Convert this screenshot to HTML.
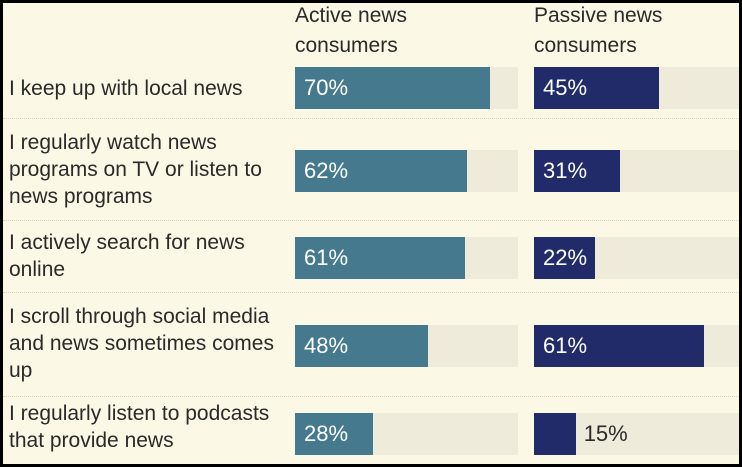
<!DOCTYPE html>
<html><head><meta charset="utf-8"><style>
body{margin:0;width:742px;height:467px;overflow:hidden;background:#fff}
#frame{position:absolute;left:0;top:0;width:736px;height:461px;border:3px solid #000;background:#fbf8e6;font-family:"Liberation Sans",sans-serif;color:#2a2a2a}
.lbl{position:absolute;left:6px;font-size:21px;line-height:27px;white-space:nowrap}
.hdr{position:absolute;font-size:21px;line-height:30px;top:-2px}
.sep{position:absolute;left:0;width:736px;border-top:1px dotted #d8d4bf}
</style></head><body>
<div id="frame">
<div class="hdr" style="left:292px">Active news<br>consumers</div>
<div class="hdr" style="left:531px">Passive news<br>consumers</div>
<div id="rows"></div>
</div>
<script>
const categories=["I keep up with local news","I regularly watch news<br>programs on TV or listen to<br>news programs","I actively search for news<br>online","I scroll through social media<br>and news sometimes comes<br>up","I regularly listen to podcasts<br>that provide news"];
const activeValues=[70,62,61,48,28];
const passiveValues=[45,31,22,61,15];
const barTops=[64,147,234,322,410];
const labelTops=[72,126,226,300,397];
const seps=[115,217,289,393];
const root=document.getElementById('rows');
const scale=v=>v*2.78;
function bar(x,top,trackW,v,color,name){
  const t=document.createElement('div');
  t.style.cssText=`position:absolute;left:${x}px;top:${top}px;width:${trackW}px;height:42px;background:#eeebdb`;
  
  
  const b=document.createElement('div');
  b.style.cssText=`position:absolute;left:0;top:0;width:${scale(v)}px;height:42px;background:${color}`;
  
  
  t.appendChild(b);
  const l=document.createElement('div');
  const inside=v>=20;
  l.style.cssText=`position:absolute;top:0;line-height:42px;font-size:22px;left:${inside?9:scale(v)+8}px;color:${inside?'#fff':'#2a2a2a'}`;
  l.textContent=v+'%';
  
  
  t.appendChild(l);
  root.appendChild(t);
}
categories.forEach((c,i)=>{
  const d=document.createElement('div');
  d.className='lbl';d.style.top=labelTops[i]+'px';d.innerHTML=c;
  
  
  root.appendChild(d);
  bar(292,barTops[i],223,activeValues[i],'#457a8e','active-bar');
  bar(531,barTops[i],205,passiveValues[i],'#212b69','passive-bar');
});
seps.forEach(y=>{const s=document.createElement('div');s.className='sep';s.style.top=y+'px';


root.appendChild(s);});
</script>
</body></html>
